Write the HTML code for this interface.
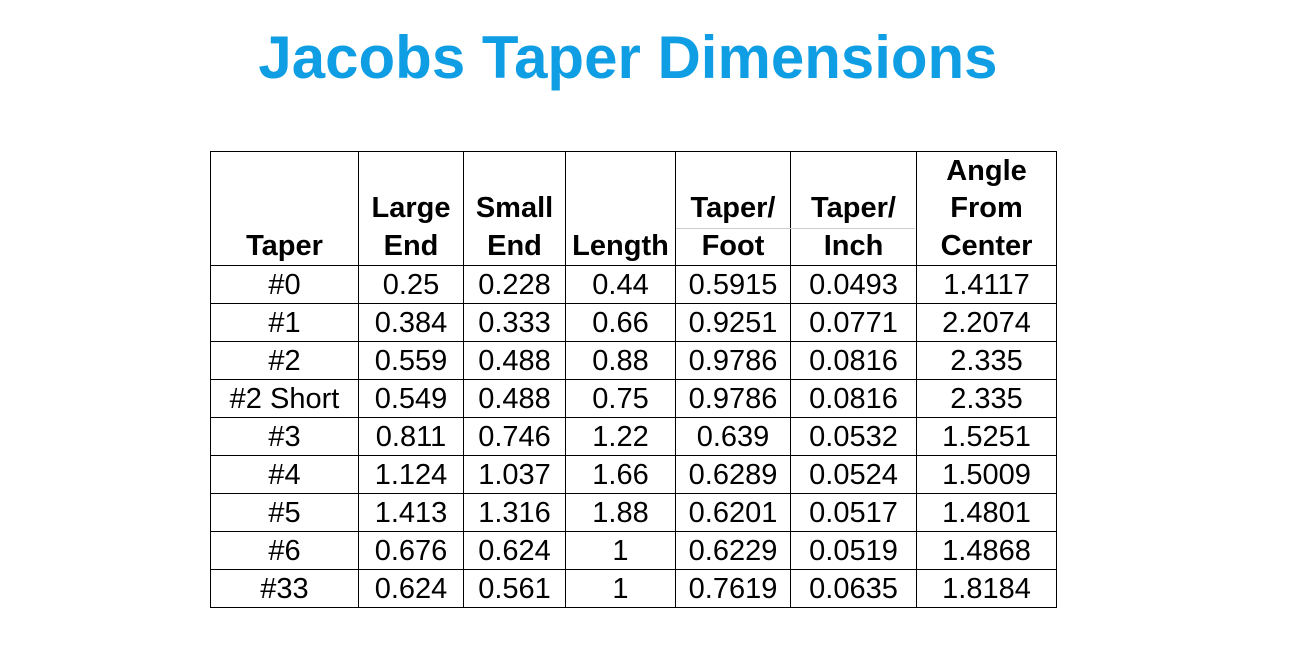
<!DOCTYPE html>
<html><head><style>
body{margin:0;width:1291px;height:668px;background:#fff;position:relative;font-family:"Liberation Sans",Arial,sans-serif;overflow:hidden}
.t{position:absolute;left:0;width:1256px;top:23px;text-align:center;font-weight:bold;font-size:60px;color:#0f9de3}
table{position:absolute;left:210px;top:151px;border-collapse:collapse}
td{border:1px solid #000;text-align:center;font-size:29px;height:37px;padding:0;line-height:30px;color:#000}
tr.h td{height:113px;font-weight:bold;vertical-align:bottom;line-height:37.5px;padding-bottom:0}
.f{position:absolute;left:676px;width:239px;top:228px;height:1px;background:#ccc}
</style></head><body>
<div class="t">Jacobs Taper Dimensions</div>
<table>
<colgroup><col style="width:148px"><col style="width:105px"><col style="width:102px"><col style="width:110px"><col style="width:115px"><col style="width:126px"><col style="width:140px"></colgroup>
<tr class="h"><td>Taper</td><td>Large<br>End</td><td>Small<br>End</td><td>Length</td><td>Taper/<br>Foot</td><td>Taper/<br>Inch</td><td>Angle<br>From<br>Center</td></tr>
<tr><td>#0</td><td>0.25</td><td>0.228</td><td>0.44</td><td>0.5915</td><td>0.0493</td><td>1.4117</td></tr>
<tr><td>#1</td><td>0.384</td><td>0.333</td><td>0.66</td><td>0.9251</td><td>0.0771</td><td>2.2074</td></tr>
<tr><td>#2</td><td>0.559</td><td>0.488</td><td>0.88</td><td>0.9786</td><td>0.0816</td><td>2.335</td></tr>
<tr><td>#2 Short</td><td>0.549</td><td>0.488</td><td>0.75</td><td>0.9786</td><td>0.0816</td><td>2.335</td></tr>
<tr><td>#3</td><td>0.811</td><td>0.746</td><td>1.22</td><td>0.639</td><td>0.0532</td><td>1.5251</td></tr>
<tr><td>#4</td><td>1.124</td><td>1.037</td><td>1.66</td><td>0.6289</td><td>0.0524</td><td>1.5009</td></tr>
<tr><td>#5</td><td>1.413</td><td>1.316</td><td>1.88</td><td>0.6201</td><td>0.0517</td><td>1.4801</td></tr>
<tr><td>#6</td><td>0.676</td><td>0.624</td><td>1</td><td>0.6229</td><td>0.0519</td><td>1.4868</td></tr>
<tr><td>#33</td><td>0.624</td><td>0.561</td><td>1</td><td>0.7619</td><td>0.0635</td><td>1.8184</td></tr>
</table>
<div class="f"></div>
</body></html>
